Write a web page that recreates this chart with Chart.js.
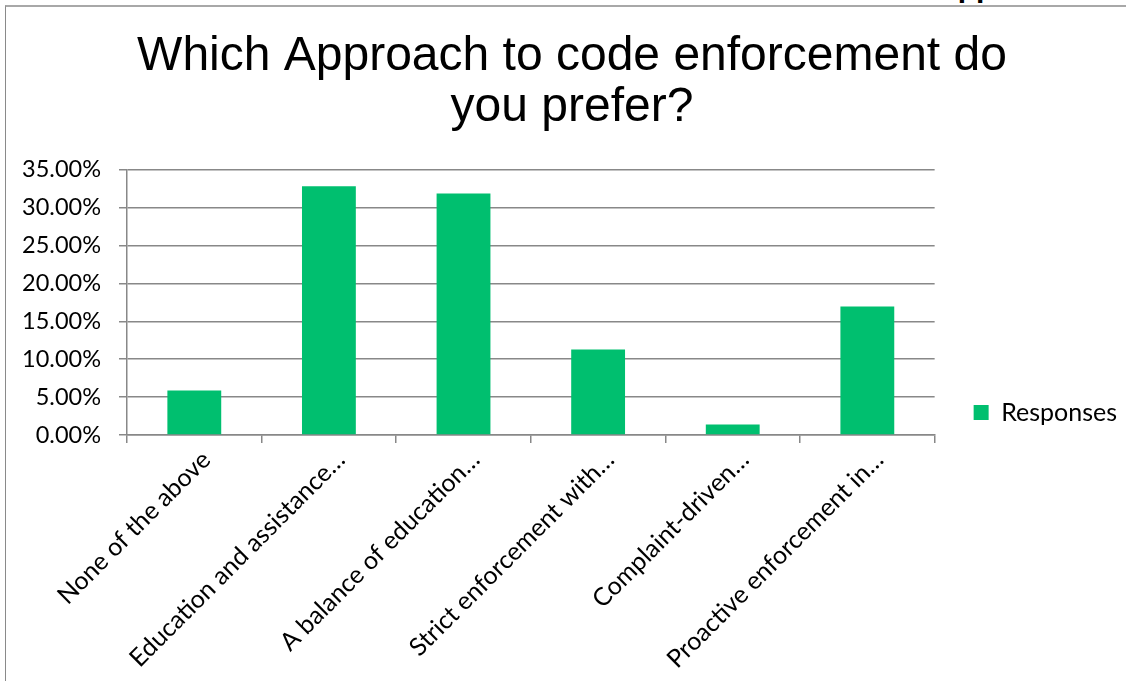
<!DOCTYPE html>
<html>
<head>
<meta charset="utf-8">
<script src="https://cdn.jsdelivr.net/npm/chart.js@4"></script>
<style>
  html, body { margin: 0; padding: 0; background: #fff; overflow: hidden; }
  body { width: 1126px; height: 681px; position: relative; }
  #frame {
    position: absolute; left: 5px; top: 5px;
    width: 1120px; height: 674px;
    border-top: 2px solid #a8a8a8;
    border-left: 1px solid #8a8a8a;
  }
  #wrap { position: absolute; left: 0; top: 0; width: 1120px; height: 674px; }
  #heading {
    position: absolute; left: 936px; top: -28px;
    font: bold 30px "Liberation Sans", Arial, sans-serif;
    line-height: 30px; color: #000; white-space: nowrap; z-index: 2;
  }
</style>
</head>
<body>
<div id="heading">Approach</div>
<div id="frame"><div id="wrap"><canvas id="chart"></canvas></div></div>
<script>
// Survey question and answer options
const titleLines = ['Which Approach to code enforcement do', 'you prefer?'];
const categories = [
  'None of the above',
  'Education and assistance\u2026',
  'A balance of education\u2026',
  'Strict enforcement with\u2026',
  'Complaint-driven\u2026',
  'Proactive enforcement in\u2026'
];
// Share of respondents (%) per option
const responses = [5.88, 32.82, 31.86, 11.29, 1.39, 16.97];
const seriesName = 'Responses';
// Value axis ticks
const yMin = 0;
const yMax = 35;
const yStep = 5;

const barColor = '#00BF6F';
const lineColor = '#888888';
const labelFont = 'Lato, "Open Sans", sans-serif';

// Move the legend clear of the plot and centre the title over the page
const boxShift = {
  id: 'boxShift',
  afterLayout(chart) {
    const lg = chart.legend;
    if (lg) { lg.left += 29; lg.right += 29; }
    const tb = chart.titleBlock;
    if (tb) { tb.left += 20; tb.right += 20; }
  }
};

new Chart(document.getElementById('chart'), {
  type: 'bar',
  data: {
    labels: categories,
    datasets: [{
      label: seriesName,
      data: responses,
      backgroundColor: barColor,
      borderWidth: 0,
      categoryPercentage: 1.0,
      barPercentage: 0.4
    }]
  },
  options: {
    responsive: true,
    maintainAspectRatio: false,
    animation: false,
    layout: { padding: { left: 0, right: 28, top: 0, bottom: 0 } },
    plugins: {
      title: {
        display: true,
        text: titleLines,
        color: '#000',
        font: { family: '"Liberation Sans", Arial, sans-serif', size: 48, weight: 'normal', lineHeight: 1.05 },
        padding: { top: 25, bottom: 37 }
      },
      legend: {
        display: true,
        position: 'right',
        align: 'end',
        fullSize: false,
        labels: {
          color: '#000',
          font: { family: labelFont, size: 25 },
          boxWidth: 15,
          boxHeight: 15,
          padding: 10
        }
      },
      tooltip: { enabled: false }
    },
    scales: {
      x: {
        afterFit(scale) { scale.height = 246; },
        grid: {
          offset: true,
          drawOnChartArea: false,
          drawTicks: true,
          tickLength: 8,
          color: lineColor,
          lineWidth: 1.5
        },
        border: { display: true, color: lineColor, width: 1.5 },
        ticks: {
          color: '#000',
          font: { family: labelFont, size: 25 },
          minRotation: 45,
          maxRotation: 45,
          autoSkip: false,
          padding: 2,
          labelOffset: 12
        }
      },
      y: {
        min: yMin,
        max: yMax,
        afterFit(scale) { scale.width = 121; },
        grid: {
          color: lineColor,
          lineWidth: 1.5,
          drawTicks: true,
          tickLength: 8
        },
        border: { display: true, color: lineColor, width: 1.5 },
        ticks: {
          stepSize: yStep,
          color: '#000',
          font: { family: labelFont, size: 23.5 },
          padding: 18,
          callback: (v) => v.toFixed(2) + '%'
        }
      }
    }
  },
  plugins: [boxShift]
});
</script>
</body>
</html>
